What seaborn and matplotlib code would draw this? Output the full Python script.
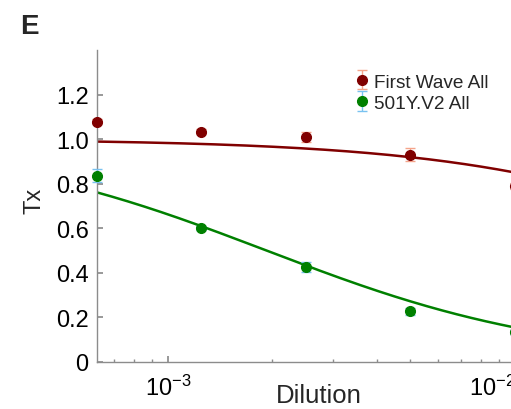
import numpy as np
import pandas as pd
import matplotlib
matplotlib.use("Agg")
import matplotlib.pyplot as plt
import matplotlib.transforms as mtransforms
import seaborn as sns

# Serial two-fold dilutions and measured Tx (mean, error)
dilution = [1/1600, 1/800, 1/400, 1/200, 1/100]
first_wave_tx = [1.079, 1.034, 1.011, 0.930, 0.790]
first_wave_err = [0.012, 0.010, 0.022, 0.030, 0.015]
variant_tx = [0.836, 0.602, 0.427, 0.228, 0.135]
variant_err = [0.030, 0.010, 0.022, 0.015, 0.010]
series_names = ["First Wave All", "501Y.V2 All"]

# Fitted Hill-curve parameters (midpoint dilution, slope)
first_wave_fit = (0.0568, 1.0)
variant_fit = (0.001925, 1.03)

sns.set_theme(style="ticks")
plt.rcParams["font.family"] = ["Liberation Sans", "DejaVu Sans"]

x_lo, x_hi = 6.25e-4, 1.6e-2
decade_px = 347
axes_w = np.log10(x_hi / x_lo) * decade_px

fig = plt.figure(figsize=(5.11, 4.10), dpi=100)
ax = fig.add_axes([97/511, 47/410, axes_w/511, 312/410])

dark_red = "#800000"
green = "#008000"
err_red = "#f5a48a"
err_blue = "#79c2f0"

grid = np.logspace(np.log10(x_lo), np.log10(x_hi), 300)
curves = []
for name, (d50, n) in zip(series_names, [first_wave_fit, variant_fit]):
    curves.append(pd.DataFrame({"Dilution": grid,
                                "Tx": 1.0 / (1.0 + (grid / d50) ** n),
                                "series": name}))
curve_df = pd.concat(curves)
sns.lineplot(data=curve_df, x="Dilution", y="Tx", hue="series",
             palette=[dark_red, green], linewidth=1.8, legend=False, ax=ax)

handles = []
for tx, err, mc, ec, name in [(first_wave_tx, first_wave_err, dark_red, err_red, series_names[0]),
                              (variant_tx, variant_err, green, err_blue, series_names[1])]:
    h = ax.errorbar(dilution, tx, yerr=err, fmt="o", color=mc, ecolor=ec,
                    elinewidth=1.0, capsize=3.5, capthick=1.0, markersize=7,
                    clip_on=False, zorder=3, label=name)
    handles.append(h)

ax.set_xscale("log")
ax.set_xlim(x_lo, x_hi)
ax.set_ylim(0, 1.4)
ax.set_yticks([0, 0.2, 0.4, 0.6, 0.8, 1.0, 1.2])
ax.set_yticklabels(["0", "0.2", "0.4", "0.6", "0.8", "1.0", "1.2"])
ax.set_xticks([1e-3, 1e-2])
ax.set_xticklabels([r"$\mathregular{10^{-3}}$", r"$\mathregular{10^{-2}}$"])

sns.despine(ax=ax)
for s in ["left", "bottom"]:
    ax.spines[s].set_color("#8c8c8c")
    ax.spines[s].set_linewidth(1.0)
ax.tick_params(axis="both", which="major", direction="in", length=4,
               color="#8c8c8c", labelsize=17, labelcolor="black")
ax.tick_params(axis="x", which="major", pad=9)
ax.tick_params(axis="y", which="major", pad=6)
ax.tick_params(axis="x", which="minor", direction="in", length=2.5, color="#8c8c8c")
ax.tick_params(axis="y", which="minor", left=False)

# keep the last decade label inside the panel
last = ax.xaxis.get_major_ticks()[1].label1
last.set_transform(last.get_transform() +
                   mtransforms.ScaledTranslation(-0.23, 0, fig.dpi_scale_trans))

ax.set_xlabel("Dilution", fontsize=18.5)
ax.xaxis.set_label_coords((319 - 97) / axes_w, -0.068)
ax.set_ylabel("Tx", fontsize=17)
ax.yaxis.set_label_coords(-0.105, 0.52)

ax.legend(handles=handles, labels=series_names, loc="upper left",
          bbox_to_anchor=(248/axes_w, 0.95), frameon=False, fontsize=13.7,
          handletextpad=0.15, borderaxespad=0, labelspacing=0.2,
          handlelength=1.0)

fig.text(20/511, 1 - 34/410, "E", fontsize=20, fontweight="bold")

fig.savefig("out.png", dpi=100)
